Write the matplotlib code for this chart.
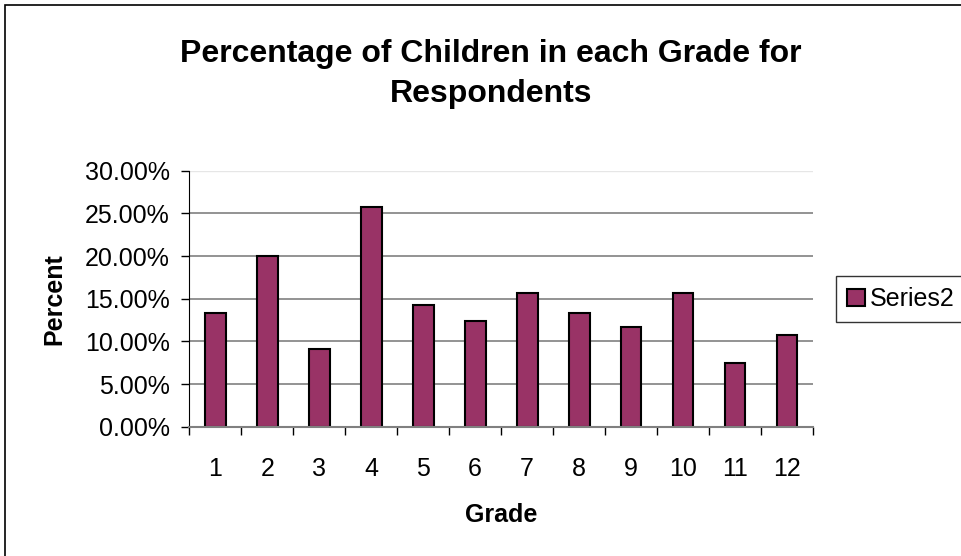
import numpy as np
import matplotlib.pyplot as plt
from matplotlib.patches import Rectangle
from matplotlib.ticker import FuncFormatter, MultipleLocator

plt.rcParams['font.family'] = ['Liberation Sans', 'DejaVu Sans']

# ---------------------------------------------------------------------------
# Data
# ---------------------------------------------------------------------------
grades = ["1", "2", "3", "4", "5", "6", "7", "8", "9", "10", "11", "12"]
series2 = [13.36, 20.00, 9.10, 25.74, 14.30, 12.42,
           15.66, 13.36, 11.72, 15.66, 7.50, 10.78]

title = "Percentage of Children in each Grade for\nRespondents"
bar_color = "#993366"

fig = plt.figure(figsize=(9.61, 5.56), dpi=100)

# chart-area frame (runs off the right and bottom edges like the original)
fig.patches.append(Rectangle((5 / 961, -0.05), 1.1, 1 - 5 / 556 + 0.05,
                             transform=fig.transFigure, fill=False,
                             edgecolor="black", lw=1.2))

ax = fig.add_axes([189.3 / 961, 1 - 426.7 / 556, 623.7 / 961, 256 / 556])

x = np.arange(len(grades))
ax.bar(x, series2, width=0.4, color=bar_color, edgecolor="black",
       linewidth=1.5, label="Series2", zorder=3)

ax.set_xlim(-0.5, len(grades) - 0.5)
ax.set_ylim(0, 30)
ax.yaxis.set_major_locator(MultipleLocator(5))
ax.yaxis.set_major_formatter(FuncFormatter(lambda v, p: f"{v:.2f}%"))

# gridlines
for v in np.arange(5, 26, 5):
    ax.axhline(v, color="#808080", lw=1.2, zorder=1)
ax.axhline(30, color="#e6e6e6", lw=1.0, zorder=1)

# category ticks at boundaries, labels centred
ax.set_xticks(np.arange(-0.5, len(grades), 1))
ax.set_xticklabels([])
ax.set_xticks(x, minor=True)
ax.set_xticklabels(grades, minor=True)
ax.tick_params(axis="x", which="major", length=6, width=1, color="black",
               direction="out")
ax.tick_params(axis="x", which="minor", length=0, pad=22, labelsize=18)
ax.tick_params(axis="y", length=6, width=1, color="black", direction="out",
               labelsize=18, pad=8)

for s in ("top", "right"):
    ax.spines[s].set_visible(False)
ax.spines["left"].set_color("black")
ax.spines["bottom"].set_color("#808080")
ax.spines["bottom"].set_linewidth(1.5)
ax.spines["bottom"].set_zorder(4)

ax.set_xlabel("Grade", fontsize=18, fontweight="bold", labelpad=16)
ax.set_ylabel("Percent", fontsize=18, fontweight="bold", labelpad=13)

fig.text(491 / 961, 1 - 74 / 556, title, ha="center", va="center",
         fontsize=23, fontweight="bold", linespacing=1.45)

leg = ax.legend(loc="center left", bbox_to_anchor=(836 / 961, 1 - 299 / 556),
                bbox_transform=fig.transFigure, frameon=True, fancybox=False,
                fontsize=18, handlelength=0.7, handleheight=0.7,
                handletextpad=0.2, borderpad=0.45, borderaxespad=0)
leg.get_frame().set_edgecolor("black")
leg.get_frame().set_linewidth(1.0)

fig.savefig("out.png", dpi=100)
